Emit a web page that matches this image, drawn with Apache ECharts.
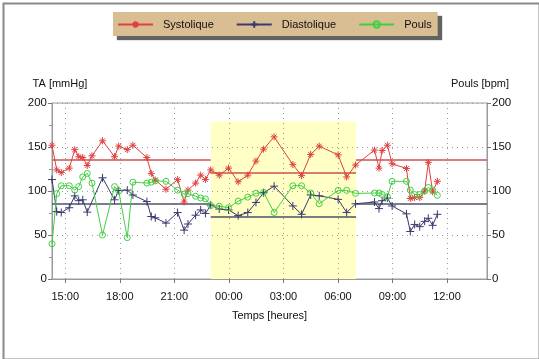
<!DOCTYPE html>
<html><head><meta charset="utf-8">
<script src="https://cdn.jsdelivr.net/npm/echarts@6/dist/echarts.min.js"></script>
<style>html,body{margin:0;padding:0;background:#fff}#c{width:539px;height:359px}</style>
</head><body><div id="c"></div>
<script>
// time in hours from day-1 midnight (24 = 00:00 next day)
const hours = [14.27,14.53,14.78,15.22,15.52,15.74,15.96,16.21,16.47,17.05,17.71,17.94,18.41,18.72,19.49,19.73,19.95,20.54,21.18,21.54,21.75,22.17,22.45,22.71,23.00,23.47,23.98,24.51,25.04,25.49,25.91,26.49,27.52,28.00,28.50,28.97,30.01,30.48,30.97,32.01,32.26,32.43,32.72,32.98,33.77,33.98,34.22,34.50,34.77,34.97,35.21,35.47];
const systolique = [152,124,121,126,147,139,138,129,140,157,139,151,147,152,138,120,112.5,102,113,87.5,101,109,118,113,124,118,126,110.5,118,134,147.5,161.5,130,117.5,141.5,151,141,116,129.5,146.5,126,146,152,131,125.5,91.5,92.5,92.5,100,132.5,99,111];
const diastolique = [113,76.5,75.5,81,94.5,89,90,76,null,115,90,100.5,101,95.5,88,71,69.5,63.5,75.5,55.5,62.5,72.5,78.5,74.5,84,79.5,78.5,72,75.5,87,98,105.5,83,73.5,95.5,94.5,90.5,75.5,85.5,87.5,80,89,92,83,74,54,62,59.5,65.5,69,61,73.5];
const pouls = [40,97,106,106,101,105,116,120,109,50,105,100,47,110,109,110,111.5,111,101,96.5,97,94,92,91,83.5,82.7,81,88.5,93,97.4,98.5,75.6,106,106,97.7,85.5,100.7,100.7,97.3,97.7,97.7,96,93.6,111,111,101,96,96,100,104,100.7,95];
// day / night mean lines
const periodBounds = [14.27, 23, 31, 38.2];
const meanSystolique = [136, 121, 136];
const meanDiastolique = [86, 70.5, 86];
// night band
const nightBand = [23, 31];
const nightBandTop = 179;
const xTicks = [15,18,21,24,27,30,33,36];

const FONT = "'Liberation Sans Narrow','Arial Narrow','Liberation Sans',Arial,sans-serif";
const RED = '#e0403f', NAVY = '#3a3a6e', GREEN = '#40d040';
const STAR = 'path://M5,0L5,10M0,5L10,5M1.5,1.5L8.5,8.5M8.5,1.5L1.5,8.5';
const PLUS = 'path://M5,0L5,10M0,5L10,5';
const RING = 'path://M0,5A5,5 0 1,0 10,5A5,5 0 1,0 0,5Z';

function pairs(vals){ return hours.map((h,i)=>[h, vals[i]]); }
function meanLines(vals, color){
  const out=[];
  for(let i=0;i<vals.length;i++){
    out.push([{coord:[periodBounds[i], vals[i]], lineStyle:{color:color}}, {coord:[periodBounds[i+1], vals[i]]}]);
  }
  return out;
}
function fmtHour(v){ const h=((Math.round(v)%24)+24)%24; return (h<10?'0':'')+h+':00'; }

const chart = echarts.init(document.getElementById('c'), null, {renderer:'canvas'});
chart.setOption({
  animation:false,
  backgroundColor:'#fff',
  textStyle:{fontFamily:FONT},
  graphic:[{type:'rect', left:1, top:1, shape:{width:536, height:356}, style:{fill:null, stroke:'#8a8a8a', lineWidth:2}, silent:true}],
  legend:{
    data:['Systolique','Diastolique','Pouls'],
    left:113, top:12, orient:'horizontal',
    padding:[7,6,6,4], itemGap:22, itemWidth:35, itemHeight:8,
    backgroundColor:'#d9bd93', borderWidth:0,
    shadowColor:'rgba(70,70,70,0.85)', shadowOffsetX:4, shadowOffsetY:4, shadowBlur:1,
    textStyle:{fontFamily:FONT, fontSize:11, color:'#111', padding:[0,0,0,5]}
  },
  grid:{left:52, right:52, top:103, bottom:80, show:true, borderColor:'#9a9a9a', borderWidth:1, backgroundColor:'transparent'},
  xAxis:{
    type:'value', min:periodBounds[0], max:periodBounds[3], z:3,
    name:'Temps [heures]', nameLocation:'middle', nameGap:31,
    nameTextStyle:{fontFamily:FONT, fontSize:11, color:'#111'},
    axisLine:{lineStyle:{color:'#9a9a9a'}},
    axisTick:{show:true, length:4, customValues:xTicks, lineStyle:{color:'#777'}},
    axisLabel:{customValues:xTicks, formatter:fmtHour, fontFamily:FONT, fontSize:11, color:'#111', margin:12},
    splitLine:{show:true, lineStyle:{color:'#9a9a9a', type:[1,4], width:1}}
  },
  yAxis:[{
    type:'value', min:0, max:200, interval:50, position:'left', z:3,
    name:'TA [mmHg]', nameLocation:'end', nameGap:14,
    nameTextStyle:{fontFamily:FONT, fontSize:11, color:'#111', align:'center', padding:[0,0,0,16]},
    axisLine:{show:true, lineStyle:{color:'#9a9a9a'}},
    axisTick:{show:true, inside:false, length:4, lineStyle:{color:'#777'}},
    minorTick:{show:true, splitNumber:2, length:3, lineStyle:{color:'#999'}},
    axisLabel:{fontFamily:FONT, fontSize:11.5, color:'#111', margin:5},
    splitLine:{show:true, lineStyle:{color:'#9a9a9a', type:[1,4], width:1}}
  },{
    type:'value', min:0, max:200, interval:50, position:'right', z:3,
    name:'Pouls [bpm]', nameLocation:'end', nameGap:14,
    nameTextStyle:{fontFamily:FONT, fontSize:11, color:'#111', align:'center', padding:[0,14,0,0]},
    axisLine:{show:true, lineStyle:{color:'#9a9a9a'}},
    axisTick:{show:true, length:4, lineStyle:{color:'#777'}},
    minorTick:{show:true, splitNumber:2, length:3, lineStyle:{color:'#999'}},
    axisLabel:{fontFamily:FONT, fontSize:11.5, color:'#111', margin:5},
    splitLine:{show:false}
  }],
  series:[
    {name:'band', type:'line', data:[], z:1, silent:true,
     markArea:{silent:true, itemStyle:{color:'#ffffc6'}, data:[[{coord:[nightBand[0],0]},{coord:[nightBand[1],nightBandTop]}]]}},
    {name:'means', type:'line', data:[], z:4, silent:true,
     markLine:{silent:true, symbol:'none', label:{show:false}, lineStyle:{type:'solid', width:1.6},
       data: meanLines(meanSystolique,'#cc5252').concat(meanLines(meanDiastolique,'#4e5264'))}},
    {name:'Systolique', type:'line', data:pairs(systolique), z:5, symbol:STAR, symbolSize:7, showAllSymbol:true,
     lineStyle:{color:RED, width:1}, itemStyle:{color:RED, borderColor:RED, borderWidth:1}},
    {name:'Diastolique', type:'line', data:pairs(diastolique), z:5, connectNulls:true, symbol:PLUS, symbolSize:8, showAllSymbol:true,
     lineStyle:{color:NAVY, width:1}, itemStyle:{color:NAVY, borderColor:NAVY, borderWidth:1}},
    {name:'Pouls', type:'line', yAxisIndex:1, data:pairs(pouls), z:5, symbol:RING, symbolSize:6, showAllSymbol:true,
     lineStyle:{color:GREEN, width:1}, itemStyle:{color:'rgba(255,255,255,0)', borderColor:GREEN, borderWidth:1}}
  ]
});
</script></body></html>
